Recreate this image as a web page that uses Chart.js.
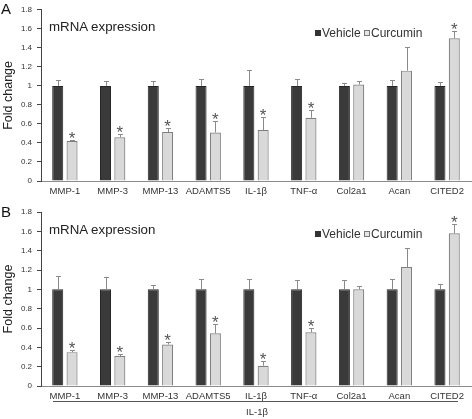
<!DOCTYPE html>
<html>
<head>
<meta charset="utf-8">
<script src="https://cdn.jsdelivr.net/npm/chart.js@4.4.1/dist/chart.umd.min.js"></script>
<style>
  html, body { margin: 0; padding: 0; background: #fff; }
  body { width: 472px; height: 419px; position: relative; overflow: hidden; font-family: "Liberation Sans", Arial, sans-serif; color: #222; }
  .cv { position: absolute; left: 0; }
  .txt { position: absolute; white-space: nowrap; line-height: 1; }
  .sq { display: inline-block; width: 5px; height: 5px; vertical-align: 1px; margin-right: 1px; }
</style>
</head>
<body>
<div class="cv" style="top:0;width:472px;height:200px;"><canvas id="cA"></canvas></div>
<div class="cv" style="top:200px;width:472px;height:219px;"><canvas id="cB"></canvas></div>

<div class="txt" style="left:1px;top:1px;font-size:15px;color:#111;">A</div>
<div class="txt" style="left:1px;top:204px;font-size:15px;color:#111;">B</div>
<div class="txt" style="left:49px;top:19.5px;font-size:13.3px;color:#222;">mRNA expression</div>
<div class="txt" style="left:49px;top:223px;font-size:13.3px;color:#222;">mRNA expression</div>
<div class="txt" style="left:315px;top:26.5px;font-size:12px;color:#333;"><span class="sq" style="background:#333;border:1px solid #333;width:4px;height:4px;"></span>Vehicle <span class="sq" style="background:#e6e6e6;border:1px solid #777;width:4px;height:4px;"></span>Curcumin</div>
<div class="txt" style="left:315px;top:227.5px;font-size:12px;color:#333;"><span class="sq" style="background:#333;border:1px solid #333;width:4px;height:4px;"></span>Vehicle <span class="sq" style="background:#e6e6e6;border:1px solid #777;width:4px;height:4px;"></span>Curcumin</div>
<div style="position:absolute;left:53px;top:401px;width:405px;height:0;border-top:1px solid #555;"></div>
<div class="txt" style="left:232px;width:50px;text-align:center;top:407px;font-size:9.5px;color:#333;">IL-1β</div>

<script>
// ---- data ----
const categories = ["MMP-1", "MMP-3", "MMP-13", "ADAMTS5", "IL-1β", "TNF-α", "Col2a1", "Acan", "CITED2"];
const yTickValues = [0, 0.2, 0.4, 0.6, 0.8, 1, 1.2, 1.4, 1.6, 1.8];

// Panel A
const vehicleA     = [1, 1, 1, 1, 1, 1, 1, 1, 1];
const vehicleErrA  = [0.06, 0.055, 0.05, 0.07, 0.17, 0.075, 0.035, 0.065, 0.045];
const curcuminA    = [0.42, 0.46, 0.515, 0.51, 0.535, 0.665, 1.015, 1.16, 1.50];
const curcuminErrA = [0.015, 0.03, 0.045, 0.12, 0.135, 0.085, 0.04, 0.25, 0.075];
const sigA         = [true, true, true, true, true, true, false, false, true];

// Panel B
const vehicleB     = [1, 1, 1, 1, 1, 1, 1, 1, 1];
const vehicleErrB  = [0.14, 0.13, 0.05, 0.11, 0.11, 0.095, 0.095, 0.11, 0.06];
const curcuminB    = [0.35, 0.31, 0.43, 0.545, 0.21, 0.555, 1.0, 1.23, 1.58];
const curcuminErrB = [0.02, 0.02, 0.025, 0.10, 0.045, 0.05, 0.03, 0.195, 0.095];
const sigB         = [true, true, true, true, true, true, false, false, true];

const FONT = "'Liberation Sans', Arial, sans-serif";

const errPlugin = {
  id: 'errAndStars',
  afterDatasetsDraw(chart, args, opts) {
    const ctx = chart.ctx;
    const y = chart.scales.y;
    ctx.save();
    chart.data.datasets.forEach((ds, di) => {
      const meta = chart.getDatasetMeta(di);
      meta.data.forEach((bar, i) => {
        const v = ds.data[i];
        const e = ds.errs[i];
        const yTop = y.getPixelForValue(v + e);
        const yBar = y.getPixelForValue(v);
        const x = Math.round(bar.x) + 0.5;
        ctx.strokeStyle = '#8a8a8a';
        ctx.lineWidth = 1;
        ctx.beginPath();
        ctx.moveTo(x, yBar);
        ctx.lineTo(x, Math.round(yTop) + 0.5);
        ctx.moveTo(x - 2.5, Math.round(yTop) + 0.5);
        ctx.lineTo(x + 2.5, Math.round(yTop) + 0.5);
        ctx.stroke();
        if (ds.sig && ds.sig[i]) {
          ctx.fillStyle = '#555';
          ctx.font = '17px ' + FONT;
          ctx.textAlign = 'center';
          ctx.textBaseline = 'alphabetic';
          ctx.fillText('*', bar.x, yTop + 4);
        }
      });
    });
    ctx.restore();
  }
};

function makeChart(id, vehicle, vErr, curc, cErr, sig, padTop, xHeight) {
  return new Chart(document.getElementById(id), {
    type: 'bar',
    data: {
      labels: categories,
      datasets: [
        { label: 'Vehicle', data: vehicle, errs: vErr, sig: null,
          backgroundColor: '#3a3a3a', borderColor: '#262626', borderWidth: 1,
          categoryPercentage: 0.6, barPercentage: 0.77 },
        { label: 'Curcumin', data: curc, errs: cErr, sig: sig,
          backgroundColor: '#d9d9d9', borderColor: '#808080', borderWidth: 1.2,
          categoryPercentage: 0.6, barPercentage: 0.77 }
      ]
    },
    options: {
      responsive: true,
      maintainAspectRatio: false,
      animation: false,
      devicePixelRatio: 1,
      layout: { padding: { top: padTop, right: 1, left: 0, bottom: 0 } },
      plugins: { legend: { display: false }, tooltip: { enabled: false } },
      scales: {
        x: {
          grid: { drawOnChartArea: false, drawTicks: false },
          border: { display: true, color: '#8c8c8c', width: 1 },
          ticks: { color: '#333', font: { family: FONT, size: 9.5 }, padding: 5, maxRotation: 0, autoSkip: false },
          afterFit(s) { s.height = xHeight; }
        },
        y: {
          min: 0, max: 1.8,
          afterBuildTicks(s) { s.ticks = yTickValues.map(v => ({ value: v })); },
          grid: { drawOnChartArea: false, drawTicks: true, tickLength: 4, color: '#444' },
          border: { display: true, color: '#444', width: 1 },
          ticks: { color: '#333', font: { family: FONT, size: 8 }, padding: 5,
                   callback: v => String(Math.round(v * 10) / 10) },
          title: { display: true, text: 'Fold change', color: '#222',
                   font: { family: FONT, size: 12.5 }, padding: { top: 1, bottom: 0 } },
          afterFit(s) { s.width = 41; }
        }
      }
    },
    plugins: [errPlugin]
  });
}

makeChart('cA', vehicleA, vehicleErrA, curcuminA, curcuminErrA, sigA, 7, 19);
makeChart('cB', vehicleB, vehicleErrB, curcuminB, curcuminErrB, sigB, 12, 33);
</script>
</body>
</html>
